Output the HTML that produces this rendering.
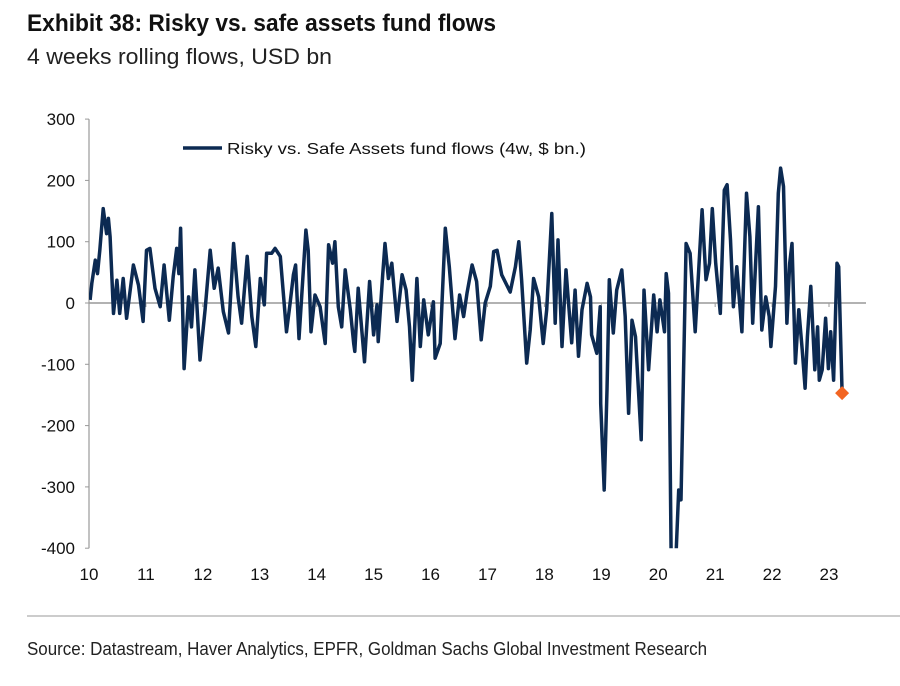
<!DOCTYPE html>
<html><head><meta charset="utf-8"><style>
html,body{margin:0;padding:0;background:#fff;}
svg{display:block;font-family:"Liberation Sans Narrow","Liberation Sans",Arial,sans-serif;}
</style></head><body>
<svg id="chart" width="900" height="686" viewBox="0 0 900 686">
<text x="27" y="31" font-size="24" font-weight="bold" fill="#111" textLength="469" lengthAdjust="spacingAndGlyphs">Exhibit 38: Risky vs. safe assets fund flows</text>
<text x="27" y="64" font-size="22" fill="#222" textLength="305" lengthAdjust="spacingAndGlyphs">4 weeks rolling flows, USD bn</text>
<g id="yaxis"></g>
<g id="xaxis"></g>
<g id="plot"></g>
<g>
<line x1="183" y1="148" x2="222" y2="148" stroke="#0c2a52" stroke-width="3.5"/>
<text x="227" y="154" font-size="16" fill="#111" textLength="359" lengthAdjust="spacingAndGlyphs">Risky vs. Safe Assets fund flows (4w, $ bn.)</text>
</g>
<line x1="27" y1="616" x2="900" y2="616" stroke="#999" stroke-width="1"/>
<text x="27" y="655" font-size="18" fill="#222" textLength="680" lengthAdjust="spacingAndGlyphs">Source: Datastream, Haver Analytics, EPFR, Goldman Sachs Global Investment Research</text>
</svg>
<script>
const yTicks=[300,200,100,0,-100,-200,-300,-400];
const xTicks=[10,11,12,13,14,15,16,17,18,19,20,21,22,23];
const dates=[10.02,10.05,10.11,10.15,10.19,10.25,10.31,10.34,10.37,10.43,10.49,10.54,10.60,10.66,10.78,10.87,10.95,11.01,11.07,11.16,11.25,11.32,11.41,11.48,11.54,11.58,11.61,11.67,11.75,11.80,11.86,11.95,12.04,12.13,12.20,12.27,12.36,12.45,12.54,12.62,12.68,12.78,12.86,12.93,13.01,13.08,13.12,13.21,13.27,13.36,13.47,13.53,13.59,13.63,13.69,13.81,13.85,13.90,13.97,14.06,14.15,14.21,
14.28,14.32,14.38,14.44,14.50,14.59,14.65,14.67,14.73,14.84,14.93,15.00,15.06,15.08,15.16,15.20,15.26,15.32,15.41,15.50,15.57,15.63,15.68,15.76,15.82,15.88,15.96,16.05,16.08,16.17,16.26,16.33,16.43,16.51,16.58,16.64,16.73,16.81,16.89,16.96,17.05,17.11,17.17,17.25,17.40,17.49,17.55,17.60,17.69,17.75,17.81,17.90,17.98,18.04,18.13,18.19,18.24,18.31,18.38,
18.42,18.48,18.54,18.60,18.66,18.75,18.81,18.83,18.92,18.98,18.99,19.05,19.10,19.14,19.21,19.27,19.36,19.42,19.48,19.54,19.60,19.64,19.70,19.75,19.83,19.92,19.98,20.03,20.11,20.14,20.18,20.23,20.30,20.36,20.40,20.49,20.56,20.65,20.74,20.77,20.84,20.90,20.95,21.01,21.09,21.16,21.21,21.27,21.32,21.38,21.47,21.55,21.61,21.66,21.72,21.76,21.82,21.89,21.95,21.98,22.06,22.11,22.15,22.20,22.26,22.31,22.35,22.41,22.47,22.53,22.58,22.62,22.68,22.75,22.80,22.83,22.88,22.94,22.99,23.03,23.08,23.14,23.17,23.23];
const flows=[5,32,70,48,86,154,113,138,108,-17,37,-17,40,-25,62,29,-30,86,89,24,-6,62,-28,43,89,48,122,-107,10,-39,54,-93,-11,86,24,57,-14,-49,97,10,-33,76,-22,-71,40,-3,81,81,89,76,-47,-3,46,62,-58,119,86,-47,13,-6,-66,95,
65,100,-6,-39,54,-11,-66,-79,24,-96,35,-52,-3,-63,46,97,40,65,-30,46,21,-39,-126,40,-71,5,-52,2,-90,-66,122,59,-58,13,-22,16,62,35,-60,0,27,84,86,46,18,59,100,38,-98,-44,40,10,-66,-11,146,-33,103,-71,54,
5,-65,21,-87,-11,32,10,-52,-82,-6,-164,-305,-142,38,-49,21,54,-22,-180,-28,-55,-120,-223,21,-109,13,-47,5,-47,48,16,-440,-440,-305,-321,97,81,-47,103,152,38,65,154,65,-17,184,193,103,-6,59,-47,179,108,-33,81,157,-44,10,-22,-71,27,179,220,190,-33,65,97,-98,-11,-76,-139,-55,27,-109,-39,-126,-109,-25,-107,-47,-126,65,59,-147];
const NS="http://www.w3.org/2000/svg";
const X0=89,X1=829,Y0=303,YS=0.613;
function xs(t){return X0+(t-10)*(X1-X0)/13;}
function ys(v){return Y0-v*YS;}
function mk(tag,attrs,parent){const e=document.createElementNS(NS,tag);for(const k in attrs)e.setAttribute(k,attrs[k]);parent.appendChild(e);return e;}
const yaxis=document.getElementById('yaxis'),xaxis=document.getElementById('xaxis'),plot=document.getElementById('plot');
const ax=mk('line',{x1:X0,y1:ys(300),x2:X0,y2:ys(-400),stroke:'#999','stroke-width':1.2},yaxis);


yTicks.forEach(v=>{
 const t=mk('text',{x:75,y:ys(v)+6,'font-size':17,'text-anchor':'end',fill:'#111'},yaxis);
 t.textContent=String(v);
 
 
 const tk=mk('line',{x1:X0-4,y1:ys(v),x2:X0,y2:ys(v),stroke:'#999'},yaxis);
 
 
});
const zl=mk('line',{x1:X0,y1:ys(0),x2:866,y2:ys(0),stroke:'#999','stroke-width':1.5},xaxis);


xTicks.forEach(t=>{
 const lb=mk('text',{x:xs(t),y:580,'font-size':17,'text-anchor':'middle',fill:'#111'},xaxis);
 lb.textContent=String(t);
 
 
 const tk=mk('line',{x1:xs(t),y1:ys(0),x2:xs(t),y2:ys(0)+4,stroke:'#999'},xaxis);
 
 
});
mk('clipPath',{id:'clip'},plot).appendChild(document.createElementNS(NS,'rect'));
const cr=plot.querySelector('#clip rect');cr.setAttribute('x',X0);cr.setAttribute('y',100);cr.setAttribute('width',800);cr.setAttribute('height',ys(-400)-100);
let d='';dates.forEach((t,i)=>{d+=(i?'L':'M')+xs(t).toFixed(1)+','+ys(flows[i]).toFixed(1);});
const p=mk('path',{d:d,fill:'none',stroke:'#0c2a52','stroke-width':3.5,'stroke-linejoin':'round','clip-path':'url(#clip)'},plot);


const lx=xs(dates[dates.length-1]),ly=ys(flows[flows.length-1]);
const m=mk('polygon',{points:`${lx},${ly-7} ${lx+7},${ly} ${lx},${ly+7} ${lx-7},${ly}`,fill:'#f26522'},plot);


</script>
</body></html>
